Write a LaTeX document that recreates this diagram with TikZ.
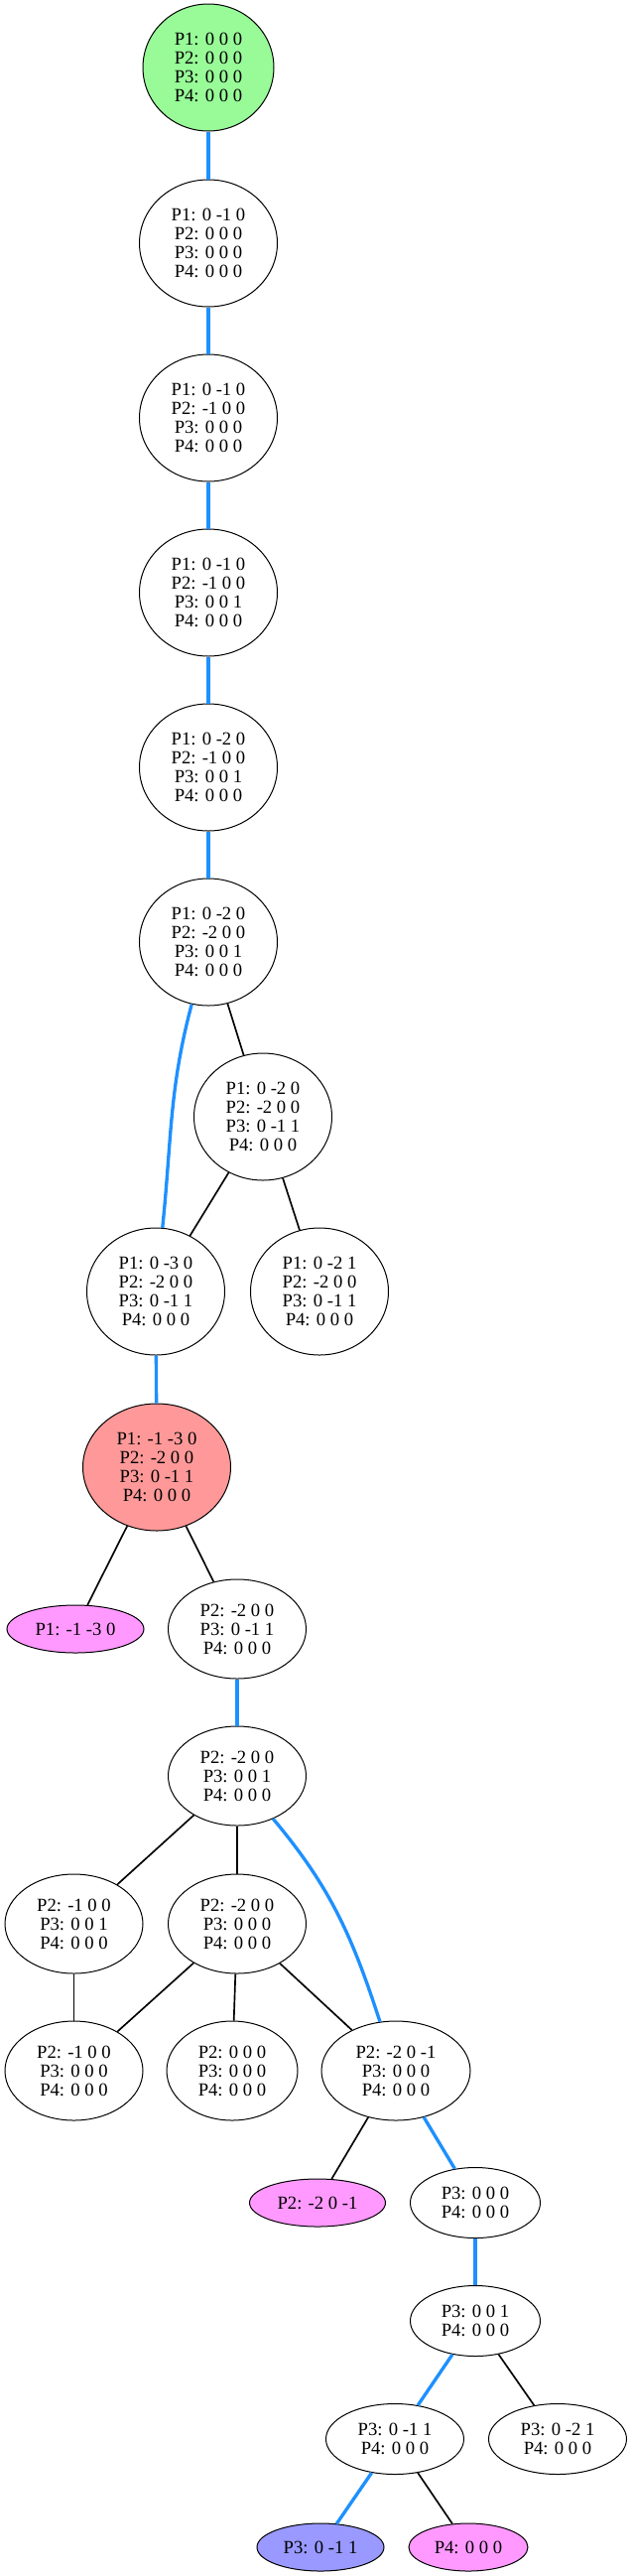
\documentclass[tikz,border=0pt]{standalone}
\usepackage{fontspec}
\setmainfont{Liberation Serif}
\usetikzlibrary{shapes.geometric}
\definecolor{startgreen}{RGB}{152,251,152}
\definecolor{endred}{RGB}{255,153,153}
\definecolor{leafpink}{RGB}{255,153,255}
\definecolor{leafblue}{RGB}{153,153,255}
\definecolor{runblue}{RGB}{30,144,255}

\begin{document}
\begin{tikzpicture}[x=0.75pt,y=0.75pt,
  state/.style={ellipse, draw, line width=0.75pt, inner sep=0pt, align=center, font=\fontsize{14}{14.3}\selectfont},
  four/.style={state, minimum width=104.25pt, minimum height=96pt},
  three/.style={state, minimum width=104.25pt, minimum height=75pt},
  two/.style={state, minimum width=98.25pt, minimum height=53.25pt},
  one/.style={state, minimum height=36pt},
  run/.style={line width=2.5pt, runblue},
  link/.style={line width=1.25pt}]
\useasboundingbox (0,0) rectangle (637,-2595);
% main chain
\node[four, fill=startgreen, minimum width=99pt] (n0) at (210,-68) {P1: 0 0 0\\P2: 0 0 0\\P3: 0 0 0\\P4: 0 0 0};
\node[four] (n1) at (210,-245) {P1: 0 -1 0\\P2: 0 0 0\\P3: 0 0 0\\P4: 0 0 0};
\node[four] (n2) at (210,-421) {P1: 0 -1 0\\P2: -1 0 0\\P3: 0 0 0\\P4: 0 0 0};
\node[four] (n3) at (210,-597) {P1: 0 -1 0\\P2: -1 0 0\\P3: 0 0 1\\P4: 0 0 0};
\node[four] (n4) at (210,-773) {P1: 0 -2 0\\P2: -1 0 0\\P3: 0 0 1\\P4: 0 0 0};
\node[four] (n5) at (210,-949) {P1: 0 -2 0\\P2: -2 0 0\\P3: 0 0 1\\P4: 0 0 0};
\node[four] (n6) at (265,-1125) {P1: 0 -2 0\\P2: -2 0 0\\P3: 0 -1 1\\P4: 0 0 0};
\node[four] (n7) at (157,-1301) {P1: 0 -3 0\\P2: -2 0 0\\P3: 0 -1 1\\P4: 0 0 0};
\node[four] (n8) at (322,-1301) {P1: 0 -2 1\\P2: -2 0 0\\P3: 0 -1 1\\P4: 0 0 0};
\node[four, fill=endred, minimum width=111.75pt] (n9) at (158,-1478) {P1: -1 -3 0\\P2: -2 0 0\\P3: 0 -1 1\\P4: 0 0 0};
% P2 part
\node[one, fill=leafpink, minimum width=103.5pt] (n10) at (76,-1641) {P1: -1 -3 0};
\node[three] (n11) at (239,-1641) {P2: -2 0 0\\P3: 0 -1 1\\P4: 0 0 0};
\node[three] (n12) at (239,-1789) {P2: -2 0 0\\P3: 0 0 1\\P4: 0 0 0};
\node[three] (n13) at (74.5,-1938) {P2: -1 0 0\\P3: 0 0 1\\P4: 0 0 0};
\node[three] (n14) at (239,-1938) {P2: -2 0 0\\P3: 0 0 0\\P4: 0 0 0};
\node[three] (n15) at (74.5,-2086) {P2: -1 0 0\\P3: 0 0 0\\P4: 0 0 0};
\node[three, minimum width=99pt] (n16) at (234,-2086) {P2: 0 0 0\\P3: 0 0 0\\P4: 0 0 0};
\node[three, minimum width=112.5pt] (n17) at (399,-2086) {P2: -2 0 -1\\P3: 0 0 0\\P4: 0 0 0};
% P3 part
\node[one, fill=leafpink, minimum width=102.75pt] (n18) at (320,-2219) {P2: -2 0 -1};
\node[two] (n19) at (479,-2219) {P3: 0 0 0\\P4: 0 0 0};
\node[two] (n20) at (479,-2338) {P3: 0 0 1\\P4: 0 0 0};
\node[two, minimum width=104.25pt] (n21) at (398,-2457) {P3: 0 -1 1\\P4: 0 0 0};
\node[two, minimum width=104.25pt] (n22) at (562,-2457) {P3: 0 -2 1\\P4: 0 0 0};
\node[one, fill=leafblue, minimum width=96pt] (n23) at (323,-2566) {P3: 0 -1 1};
\node[one, fill=leafpink, minimum width=90pt] (n24) at (472,-2566) {P4: 0 0 0};
% blue run
\draw[run] (n0) -- (n1);
\draw[run] (n1) -- (n2);
\draw[run] (n2) -- (n3);
\draw[run] (n3) -- (n4);
\draw[run] (n4) -- (n5);
\draw[run] (n5) to[out=-105, in=84] (n7);
\draw[run] (n7) -- (n9);
\draw[run] (n11) -- (n12);
\draw[run] (n12) to[out=-50, in=108] (n17);
\draw[run] (n17) -- (n19);
\draw[run] (n19) -- (n20);
\draw[run] (n20) -- (n21);
\draw[run] (n21) -- (n23);
% other branches
\draw[link] (n5) -- (n6);
\draw[link] (n6) -- (n7);
\draw[link] (n6) -- (n8);
\draw[link] (n9) -- (n10);
\draw[link] (n9) -- (n11);
\draw[link] (n12) -- (n13);
\draw[link] (n12) -- (n14);
\draw[link] (n13) -- (n15);
\draw[link] (n14) -- (n15);
\draw[link] (n14) -- (n16);
\draw[link] (n14) -- (n17);
\draw[link] (n17) -- (n18);
\draw[link] (n20) -- (n22);
\draw[link] (n21) -- (n24);
\end{tikzpicture}
\end{document}
